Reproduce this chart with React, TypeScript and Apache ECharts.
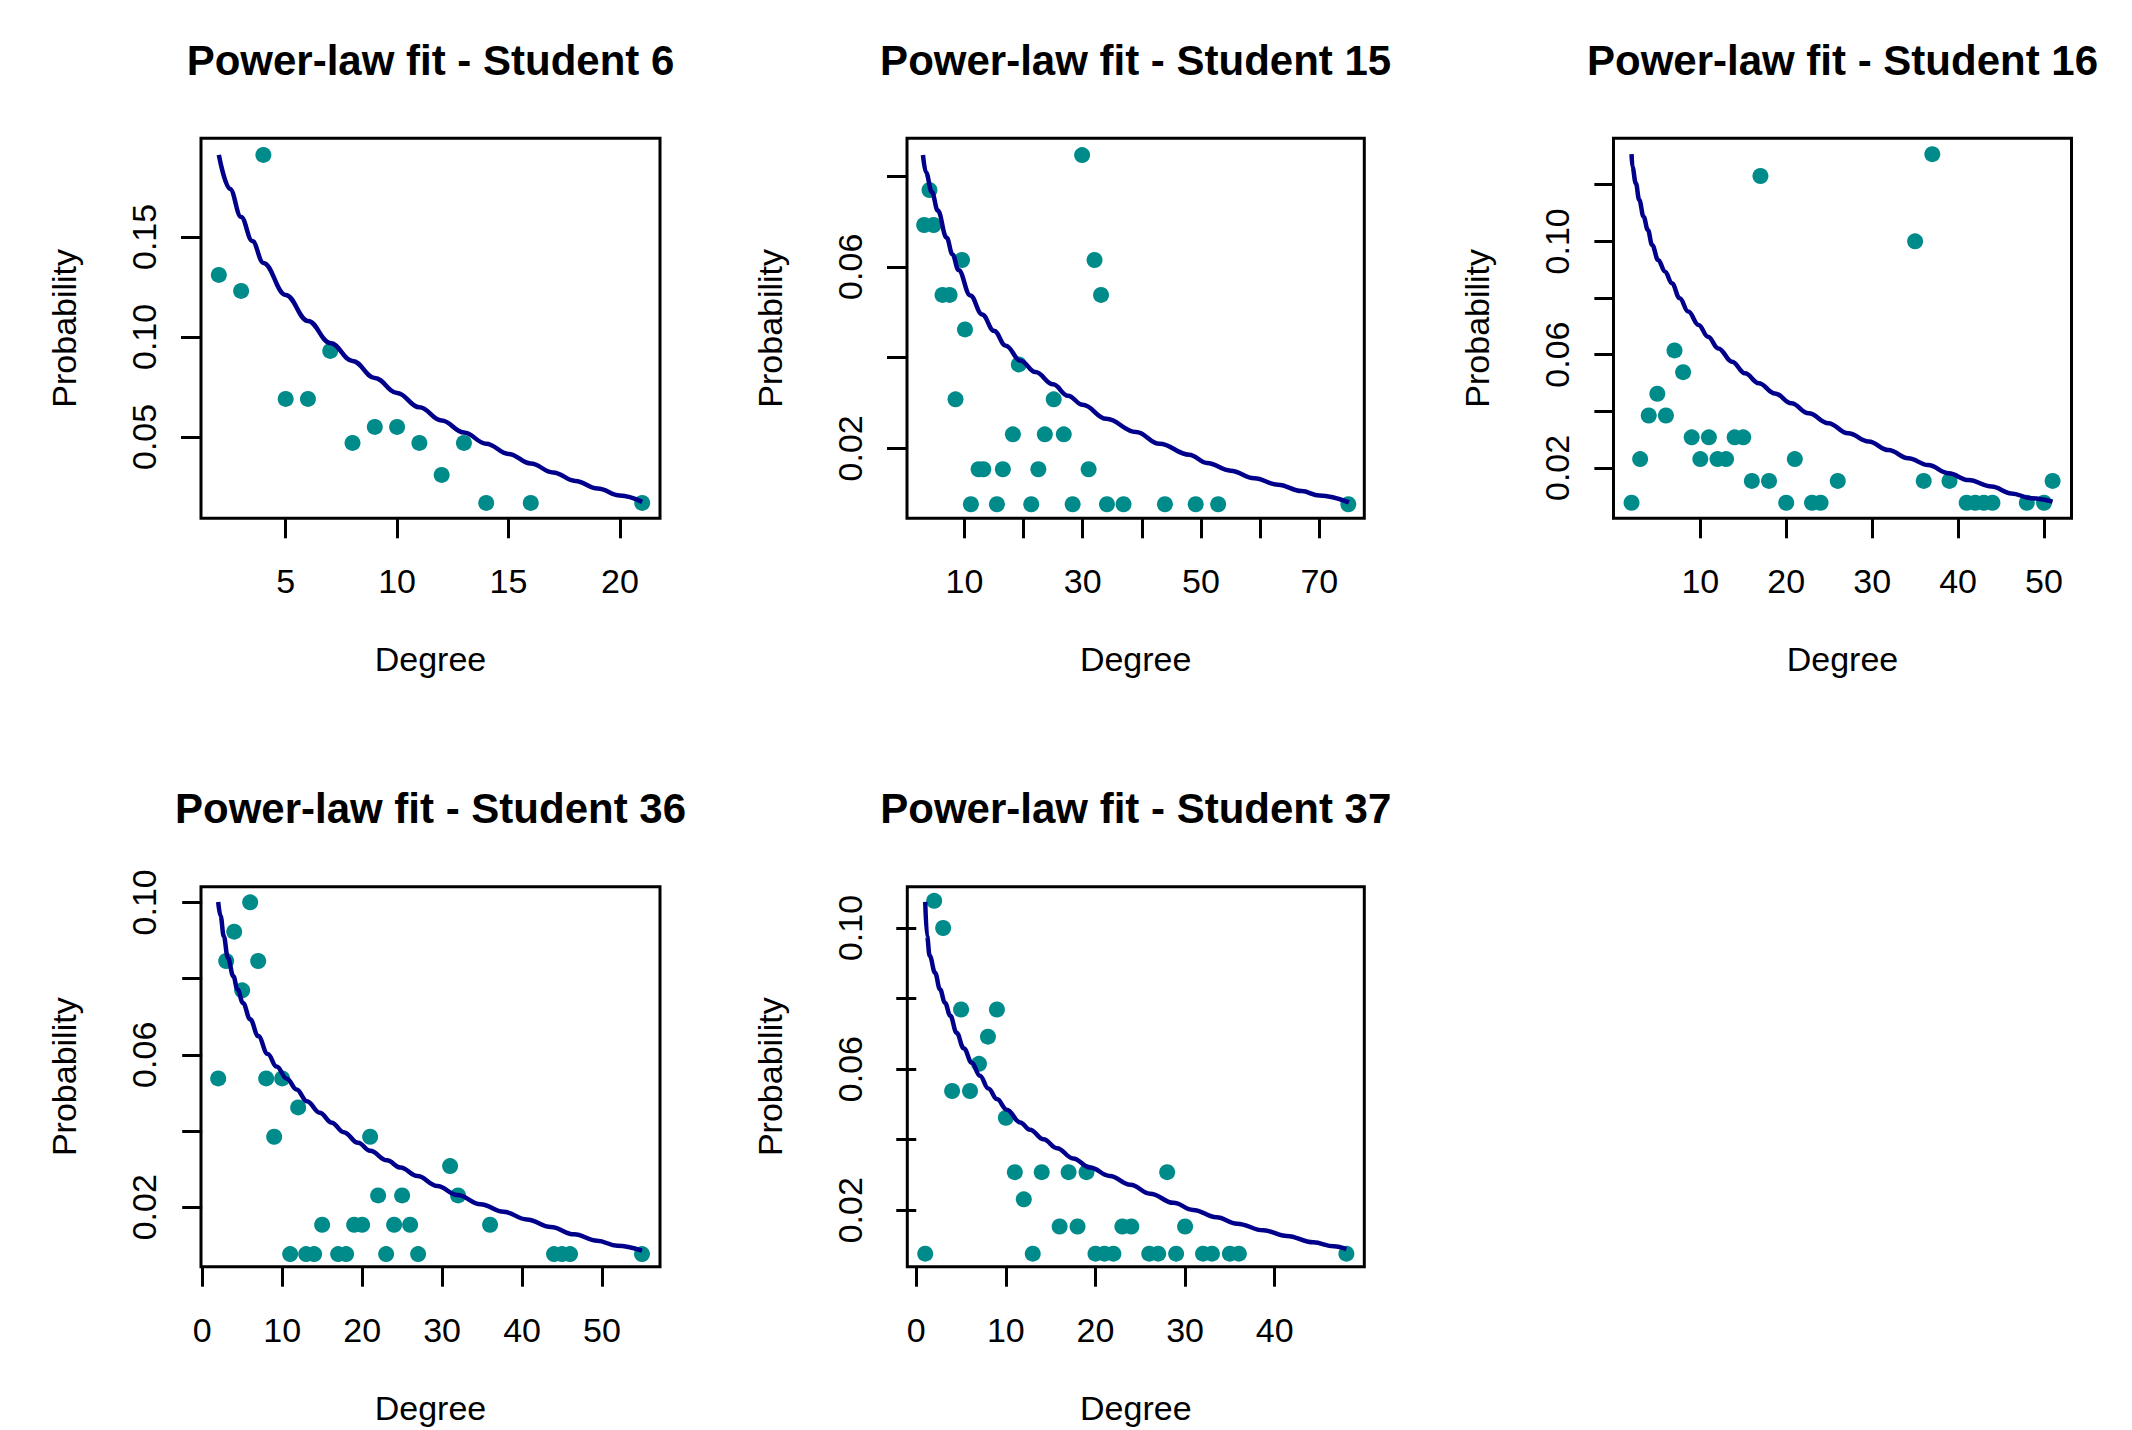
import React, { useEffect, useRef } from 'react';
import * as echarts from 'echarts';

const FONT = "'Liberation Sans', Arial, Helvetica, sans-serif";
const POINT_COLOR = '#008B8B';
const LINE_COLOR = '#00008B';

// ---------- Student 6 ----------
const s6Deg = [2, 3, 4, 5, 6, 7, 8, 9, 10, 11, 12, 13, 14, 16, 21];
const s6Prob = [0.131, 0.123, 0.191, 0.069, 0.069, 0.093, 0.047, 0.055, 0.055, 0.047, 0.031, 0.047, 0.017, 0.017, 0.017];
const s6FitDeg = [2, 2.5, 3, 3.5, 4, 5, 6, 7, 8, 9, 10, 11, 12, 13, 14, 15, 16, 17, 18, 19, 20, 21];
const s6FitProb = [0.191, 0.174, 0.16, 0.148, 0.137, 0.121, 0.108, 0.097, 0.088, 0.0795, 0.072, 0.0648, 0.0582, 0.0522, 0.0466, 0.0415, 0.0367, 0.0322, 0.028, 0.0242, 0.0207, 0.0175];

// ---------- Student 15 ----------
const s15Deg = [29.9, 4.1, 3.2, 4.8, 9.6, 32.0, 6.3, 7.5, 33.1, 10.1, 19.2, 8.5, 25.1, 18.2, 23.6, 26.8, 12.4, 13.2, 16.5, 22.5, 31.0, 11.1, 15.5, 21.3, 28.3, 34.1, 36.9, 43.9, 49.1, 52.9, 74.9];
const s15Prob = [0.0846, 0.0769, 0.0692, 0.0692, 0.0615, 0.0615, 0.0538, 0.0538, 0.0538, 0.0462, 0.0385, 0.0308, 0.0308, 0.0231, 0.0231, 0.0231, 0.0154, 0.0154, 0.0154, 0.0154, 0.0154, 0.0077, 0.0077, 0.0077, 0.0077, 0.0077, 0.0077, 0.0077, 0.0077, 0.0077, 0.0077];
const s15FitDeg = [3, 3.5, 4.5, 5.5, 7, 8, 9, 11, 13, 15, 17, 19.5, 22, 25, 27.5, 30, 34, 39, 43, 48, 51, 55, 59, 63, 67, 70, 75];
const s15FitProb = [0.0846, 0.0808, 0.0765, 0.0724, 0.0664, 0.0627, 0.0593, 0.0537, 0.0495, 0.0459, 0.0426, 0.0393, 0.0368, 0.0341, 0.0316, 0.0296, 0.0265, 0.0236, 0.021, 0.0186, 0.0168, 0.0151, 0.0134, 0.012, 0.0106, 0.0096, 0.0081];

// ---------- Student 16 ----------
const s16Deg = [37, 17, 35, 7, 8, 5, 4, 6, 9, 11, 14, 15, 3, 10, 12, 13, 21, 16, 18, 26, 36, 39, 51, 2, 20, 23, 24, 41, 42, 43, 44, 48, 50];
const s16Prob = [0.1308, 0.1231, 0.1, 0.0615, 0.0538, 0.0462, 0.0385, 0.0385, 0.0308, 0.0308, 0.0308, 0.0308, 0.0231, 0.0231, 0.0231, 0.0231, 0.0231, 0.0154, 0.0154, 0.0154, 0.0154, 0.0154, 0.0154, 0.0077, 0.0077, 0.0077, 0.0077, 0.0077, 0.0077, 0.0077, 0.0077, 0.0077, 0.0077];
const s16FitDeg = [2, 2.1, 2.5, 2.9, 3.4, 3.9, 4.4, 5.1, 5.9, 6.7, 7.6, 8.6, 9.8, 10.9, 12.1, 13.7, 15.2, 16.8, 18.7, 20.6, 22.6, 24.9, 27.2, 29.6, 31.9, 34.2, 36.5, 38.9, 41.2, 43.9, 46.2, 48.5, 51];
const s16FitProb = [0.1308, 0.1263, 0.1205, 0.1146, 0.1087, 0.104, 0.0987, 0.0934, 0.0893, 0.0852, 0.0799, 0.0752, 0.0705, 0.0663, 0.0622, 0.0575, 0.0534, 0.0499, 0.0463, 0.0428, 0.0393, 0.0358, 0.0322, 0.0293, 0.0263, 0.0234, 0.021, 0.0181, 0.0157, 0.0134, 0.011, 0.0093, 0.0081];

// ---------- Student 36 ----------
const s36Deg = [6, 4, 3, 7, 5, 2, 8, 10, 12, 9, 21, 31, 22, 25, 32, 15, 19, 20, 24, 26, 36, 11, 13, 14, 17, 18, 23, 27, 44, 45, 46, 55];
const s36Prob = [0.1, 0.0923, 0.0846, 0.0846, 0.0769, 0.0538, 0.0538, 0.0538, 0.0462, 0.0385, 0.0385, 0.0308, 0.0231, 0.0231, 0.0231, 0.0154, 0.0154, 0.0154, 0.0154, 0.0154, 0.0154, 0.0077, 0.0077, 0.0077, 0.0077, 0.0077, 0.0077, 0.0077, 0.0077, 0.0077, 0.0077, 0.0077];
const s36FitDeg = [2, 2.3, 2.7, 3.2, 3.9, 4.4, 5.1, 6, 7, 8.2, 9.3, 10.6, 11.8, 13.1, 14.7, 16.2, 17.7, 19.5, 21, 23.1, 24.8, 26.9, 29.4, 31.9, 34.8, 37.7, 40.6, 43.6, 46.5, 49.4, 51.9, 55];
const s36FitProb = [0.1001, 0.0964, 0.0911, 0.0855, 0.0806, 0.0772, 0.0736, 0.0693, 0.0649, 0.0602, 0.0569, 0.0537, 0.0509, 0.0478, 0.0448, 0.0422, 0.0397, 0.0369, 0.0348, 0.0323, 0.0304, 0.0282, 0.0256, 0.0232, 0.0208, 0.0188, 0.0168, 0.0148, 0.0129, 0.0112, 0.0099, 0.0086];

// ---------- Student 37 ----------
const s37Deg = [2, 3, 5, 9, 8, 7, 4, 6, 10, 11, 14, 17, 19, 28, 12, 16, 18, 23, 24, 30, 1, 13, 20, 21, 22, 26, 27, 29, 32, 33, 35, 36, 48];
const s37Prob = [0.1077, 0.1, 0.0769, 0.0769, 0.0692, 0.0615, 0.0538, 0.0538, 0.0462, 0.0308, 0.0308, 0.0308, 0.0308, 0.0308, 0.0231, 0.0154, 0.0154, 0.0154, 0.0154, 0.0154, 0.0077, 0.0077, 0.0077, 0.0077, 0.0077, 0.0077, 0.0077, 0.0077, 0.0077, 0.0077, 0.0077, 0.0077, 0.0077];
const s37FitDeg = [1, 1.2, 1.5, 2.1, 2.65, 3.2, 3.8, 4.5, 5.3, 6.2, 7.1, 8.05, 9, 10.1, 11.6, 12.7, 14.2, 15.7, 17.5, 19.4, 21.6, 23.9, 26.1, 28.7, 30.9, 33.5, 35.8, 38.75, 41.35, 44.3, 46.6, 48];
const s37FitProb = [0.1074, 0.0977, 0.0921, 0.0873, 0.0826, 0.0788, 0.0751, 0.0703, 0.0659, 0.0618, 0.0581, 0.0545, 0.0515, 0.0485, 0.0449, 0.0428, 0.0401, 0.0376, 0.0347, 0.0321, 0.0297, 0.0272, 0.0247, 0.0221, 0.0201, 0.018, 0.0162, 0.0143, 0.0127, 0.0109, 0.0098, 0.009];

// ---------- titles & ticks ----------
const titles = [
  'Power-law fit - Student 6',
  'Power-law fit - Student 15',
  'Power-law fit - Student 16',
  'Power-law fit - Student 36',
  'Power-law fit - Student 37',
];
const s6XTicks = [5, 10, 15, 20];
const s6XLabels = [5, 10, 15, 20];
const s6YTicks = [0.05, 0.1, 0.15];
const s6YLabels = [0.05, 0.1, 0.15];
const s15XTicks = [10, 20, 30, 40, 50, 60, 70];
const s15XLabels = [10, 30, 50, 70];
const s15YTicks = [0.02, 0.04, 0.06, 0.08];
const s15YLabels = [0.02, 0.06];
const s16XTicks = [10, 20, 30, 40, 50];
const s16XLabels = [10, 20, 30, 40, 50];
const s16YTicks = [0.02, 0.04, 0.06, 0.08, 0.1, 0.12];
const s16YLabels = [0.02, 0.06, 0.1];
const s36XTicks = [0, 10, 20, 30, 40, 50];
const s36XLabels = [0, 10, 20, 30, 40, 50];
const s36YTicks = [0.02, 0.04, 0.06, 0.08, 0.1];
const s36YLabels = [0.02, 0.06, 0.1];
const s37XTicks = [0, 10, 20, 30, 40];
const s37XLabels = [0, 10, 20, 30, 40];
const s37YTicks = [0.02, 0.04, 0.06, 0.08, 0.1];
const s37YLabels = [0.02, 0.06, 0.1];

const zip = (xs: number[], ys: number[]) => xs.map((x, i) => [x, ys[i]]);

const panels = [
  { title: titles[0], deg: s6Deg, prob: s6Prob, fitDeg: s6FitDeg, fitProb: s6FitProb, xRange: [1.2, 21.8], yRange: [0.0093, 0.1993], xTicks: s6XTicks, xLabels: s6XLabels, yTicks: s6YTicks, yLabels: s6YLabels },
  { title: titles[1], deg: s15Deg, prob: s15Prob, fitDeg: s15FitDeg, fitProb: s15FitProb, xRange: [0.3, 77.6], yRange: [0.0046, 0.0883], xTicks: s15XTicks, xLabels: s15XLabels, yTicks: s15YTicks, yLabels: s15YLabels },
  { title: titles[2], deg: s16Deg, prob: s16Prob, fitDeg: s16FitDeg, fitProb: s16FitProb, xRange: [-0.1, 53.2], yRange: [0.0022, 0.1364], xTicks: s16XTicks, xLabels: s16XLabels, yTicks: s16YTicks, yLabels: s16YLabels },
  { title: titles[3], deg: s36Deg, prob: s36Prob, fitDeg: s36FitDeg, fitProb: s36FitProb, xRange: [-0.15, 57.25], yRange: [0.0044, 0.1041], xTicks: s36XTicks, xLabels: s36XLabels, yTicks: s36YTicks, yLabels: s36YLabels },
  { title: titles[4], deg: s37Deg, prob: s37Prob, fitDeg: s37FitDeg, fitProb: s37FitProb, xRange: [-1.0, 50.0], yRange: [0.004, 0.1117], xTicks: s37XTicks, xLabels: s37XLabels, yTicks: s37YTicks, yLabels: s37YLabels },
];

// plot boxes (pixels)
const boxes = [
  { left: 201, top: 138.3, width: 459, height: 380 },
  { left: 907, top: 138.3, width: 457.3, height: 380 },
  { left: 1613.5, top: 138.3, width: 458, height: 380 },
  { left: 201, top: 886.7, width: 459, height: 380 },
  { left: 907.3, top: 886.7, width: 457, height: 380 },
];

function buildOption() {
  const grid: any[] = [];
  const xAxis: any[] = [];
  const yAxis: any[] = [];
  const series: any[] = [];
  const title: any[] = [];
  const tickStyle = { color: '#000', width: 3 };
  const labelStyle = { color: '#000', fontSize: 34, fontFamily: FONT };

  panels.forEach((p, i) => {
    const b = boxes[i];
    grid.push({ left: b.left, top: b.top, width: b.width, height: b.height, show: true, borderColor: '#000', borderWidth: 3, backgroundColor: 'transparent' });
    title.push({
      text: p.title,
      left: b.left + b.width / 2,
      top: b.top - 99,
      textAlign: 'center',
      padding: 0,
      textStyle: { fontSize: 42, fontWeight: 'bold', fontFamily: FONT, color: '#000' },
    });
    xAxis.push({
      type: 'value',
      gridIndex: i,
      min: p.xRange[0],
      max: p.xRange[1],
      axisLine: { show: false },
      splitLine: { show: false },
      axisTick: { show: true, inside: false, length: 20, lineStyle: tickStyle, customValues: p.xTicks },
      axisLabel: { ...labelStyle, margin: 46, customValues: p.xLabels, formatter: (v: number) => String(v) },
      name: 'Degree',
      nameLocation: 'middle',
      nameGap: 124,
      nameTextStyle: labelStyle,
    });
    yAxis.push({
      type: 'value',
      gridIndex: i,
      min: p.yRange[0],
      max: p.yRange[1],
      axisLine: { show: false },
      splitLine: { show: false },
      axisTick: { show: true, inside: false, length: 20, lineStyle: tickStyle, customValues: p.yTicks },
      axisLabel: { ...labelStyle, margin: 40, rotate: 90, customValues: p.yLabels, formatter: (v: number) => v.toFixed(2) },
      name: 'Probability',
      nameLocation: 'middle',
      nameGap: 120,
      nameTextStyle: labelStyle,
    });
    series.push({
      type: 'scatter',
      xAxisIndex: i,
      yAxisIndex: i,
      data: zip(p.deg, p.prob),
      symbol: 'circle',
      symbolSize: 16,
      itemStyle: { color: POINT_COLOR, opacity: 1 },
      z: 2,
    });
    series.push({
      type: 'line',
      xAxisIndex: i,
      yAxisIndex: i,
      data: zip(p.fitDeg, p.fitProb),
      showSymbol: false,
      symbol: 'none',
      smooth: 0.4,
      smoothMonotone: 'x',
      lineStyle: { color: LINE_COLOR, width: 4.5 },
      z: 3,
    });
  });

  return {
    animation: false,
    backgroundColor: '#fff',
    title,
    grid,
    xAxis,
    yAxis,
    series,
  };
}

export default function App() {
  const ref = useRef<HTMLDivElement>(null);
  useEffect(() => {
    document.body.style.margin = '0';
    const chart = echarts.init(ref.current as HTMLDivElement, null, { renderer: 'svg' });
    chart.setOption(buildOption() as any);
    return () => chart.dispose();
  }, []);
  return <div ref={ref} style={{ width: 2132, height: 1430, background: '#fff' }} />;
}
